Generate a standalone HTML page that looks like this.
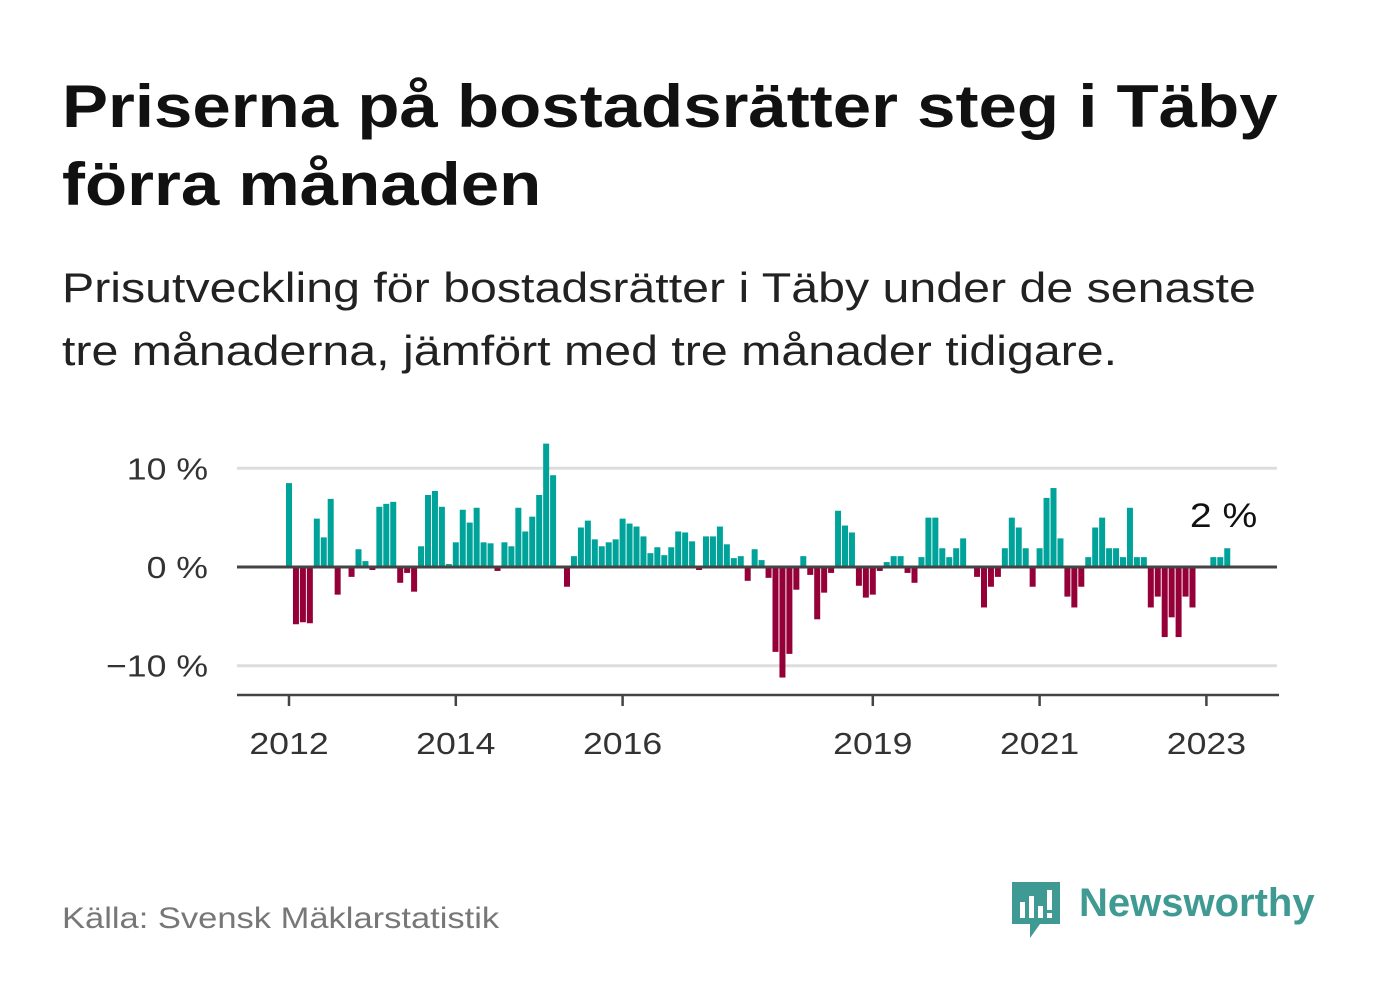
<!DOCTYPE html>
<html><head><meta charset="utf-8">
<style>
body{margin:0;background:#fff;width:1382px;height:999px;overflow:hidden;font-family:"Liberation Sans","DejaVu Sans",sans-serif;}
.t{position:absolute;left:62px;color:#111;transform:scaleX(1.15);transform-origin:0 0;white-space:nowrap}
</style></head>
<body>
<div class="t" style="top:68px;font-size:60px;font-weight:bold;line-height:78px">Priserna på bostadsrätter steg i Täby<br>förra månaden</div>
<div class="t" style="top:256px;font-size:42px;line-height:63px;color:#222">Prisutveckling för bostadsrätter i Täby under de senaste<br>tre månaderna, jämfört med tre månader tidigare.</div>
<svg id="chart" style="position:absolute;left:0;top:0" width="1382" height="999"></svg>
<div class="t" style="top:902px;font-size:30px;color:#777">Källa: Svensk Mäklarstatistik</div>
<div style="position:absolute;left:1012px;top:880px;width:320px;height:60px">
<svg width="50" height="60" style="position:absolute;left:0;top:0"><path d="M0 2h48v42H28l-10 14V44H0z" fill="#3f9a93"/><rect x="8" y="22" width="5" height="16" fill="#fff"/><rect x="17" y="16" width="5" height="22" fill="#fff"/><rect x="26" y="26" width="5" height="12" fill="#fff"/><rect x="35" y="10" width="5" height="20" fill="#fff"/><rect x="35" y="33" width="5" height="5" fill="#fff"/></svg>
<span style="position:absolute;left:67px;top:1px;font-size:40px;font-weight:bold;color:#3f9a93">Newsworthy</span></div>
<script>
const values=[8.5,-5.8,-5.6,-5.7,4.9,3.0,6.9,-2.8,0,-1.0,1.8,0.6,-0.3,6.1,6.4,6.6,-1.6,-0.6,-2.5,2.1,7.3,7.7,6.1,0.3,2.5,5.8,4.5,6.0,2.5,2.4,-0.4,2.5,2.1,6.0,3.6,5.1,7.3,12.5,9.3,0,-2.0,1.1,4.0,4.7,2.8,2.1,2.5,2.8,4.9,4.4,4.1,3.1,1.4,2.0,1.2,2.0,3.6,3.5,2.6,-0.3,3.1,3.1,4.1,2.3,0.9,1.1,-1.4,1.8,0.7,-1.1,-8.6,-11.2,-8.8,-2.3,1.1,-0.8,-5.3,-2.6,-0.6,5.7,4.2,3.5,-1.9,-3.1,-2.8,-0.4,0.5,1.1,1.1,-0.6,-1.6,1.0,5.0,5.0,1.9,1.0,1.9,2.9,0,-1.0,-4.1,-2.0,-1.0,1.9,5.0,4.0,1.9,-2.0,1.9,7.0,8.0,2.9,-3.0,-4.1,-2.0,1.0,4.0,5.0,1.9,1.9,1.0,6.0,1.0,1.0,-4.1,-3.0,-7.1,-5.1,-7.1,-3.0,-4.1,0,0,1.0,1.0,1.9];
const yTicks=[10,0,-10];
const yTickLabels=["10 %","0 %","−10 %"];
const xTickIdx=[0,24,48,84,108,132];
const xTickLabels=["2012","2014","2016","2019","2021","2023"];
const lastLabel="2 %";
const svg=document.getElementById('chart');
const NS='http://www.w3.org/2000/svg';
const y=v=>567-v*9.87;
const x=i=>289+i*6.95;
function mk(t,a){const e=document.createElementNS(NS,t);for(const k in a)e.setAttribute(k,a[k]);svg.appendChild(e);return e;}
function txt(s,tx,ty,anchor,size,fill){const e=mk('text',{x:0,y:0,'text-anchor':anchor,'font-size':size,fill:fill,transform:`translate(${tx},${ty}) scale(1.15,1)`});e.textContent=s;return e;}
yTicks.forEach((v,i)=>{
  if(v!==0){const g=mk('line',{x1:237,x2:1277,y1:y(v),y2:y(v),stroke:'#ddd','stroke-width':3});
  
  }
  const t=txt(yTickLabels[i],208,y(v)+11,'end',31,'#333');
  
  
});
values.forEach((v,i)=>{
  if(v===0)return;
  const r=mk('rect',{x:x(i)-3,y:Math.min(y(v),y(0)),width:6,height:Math.abs(y(v)-y(0)),fill:v>0?'#00a39a':'#950038'});
  
  
});
const z=mk('line',{x1:237,x2:1277,y1:y(0),y2:y(0),stroke:'#444','stroke-width':3});


const ax=mk('line',{x1:237,x2:1279,y1:695,y2:695,stroke:'#444','stroke-width':2.5});


xTickIdx.forEach((idx,i)=>{
  const tk=mk('line',{x1:x(idx),x2:x(idx),y1:695,y2:706,stroke:'#444','stroke-width':2.5});
  
  
  const t=txt(xTickLabels[i],x(idx),754,'middle',31,'#333');
  
  
});
const ll=txt(lastLabel,x(values.length-1)+30,527,'end',34,'#111');


</script>
</body></html>
